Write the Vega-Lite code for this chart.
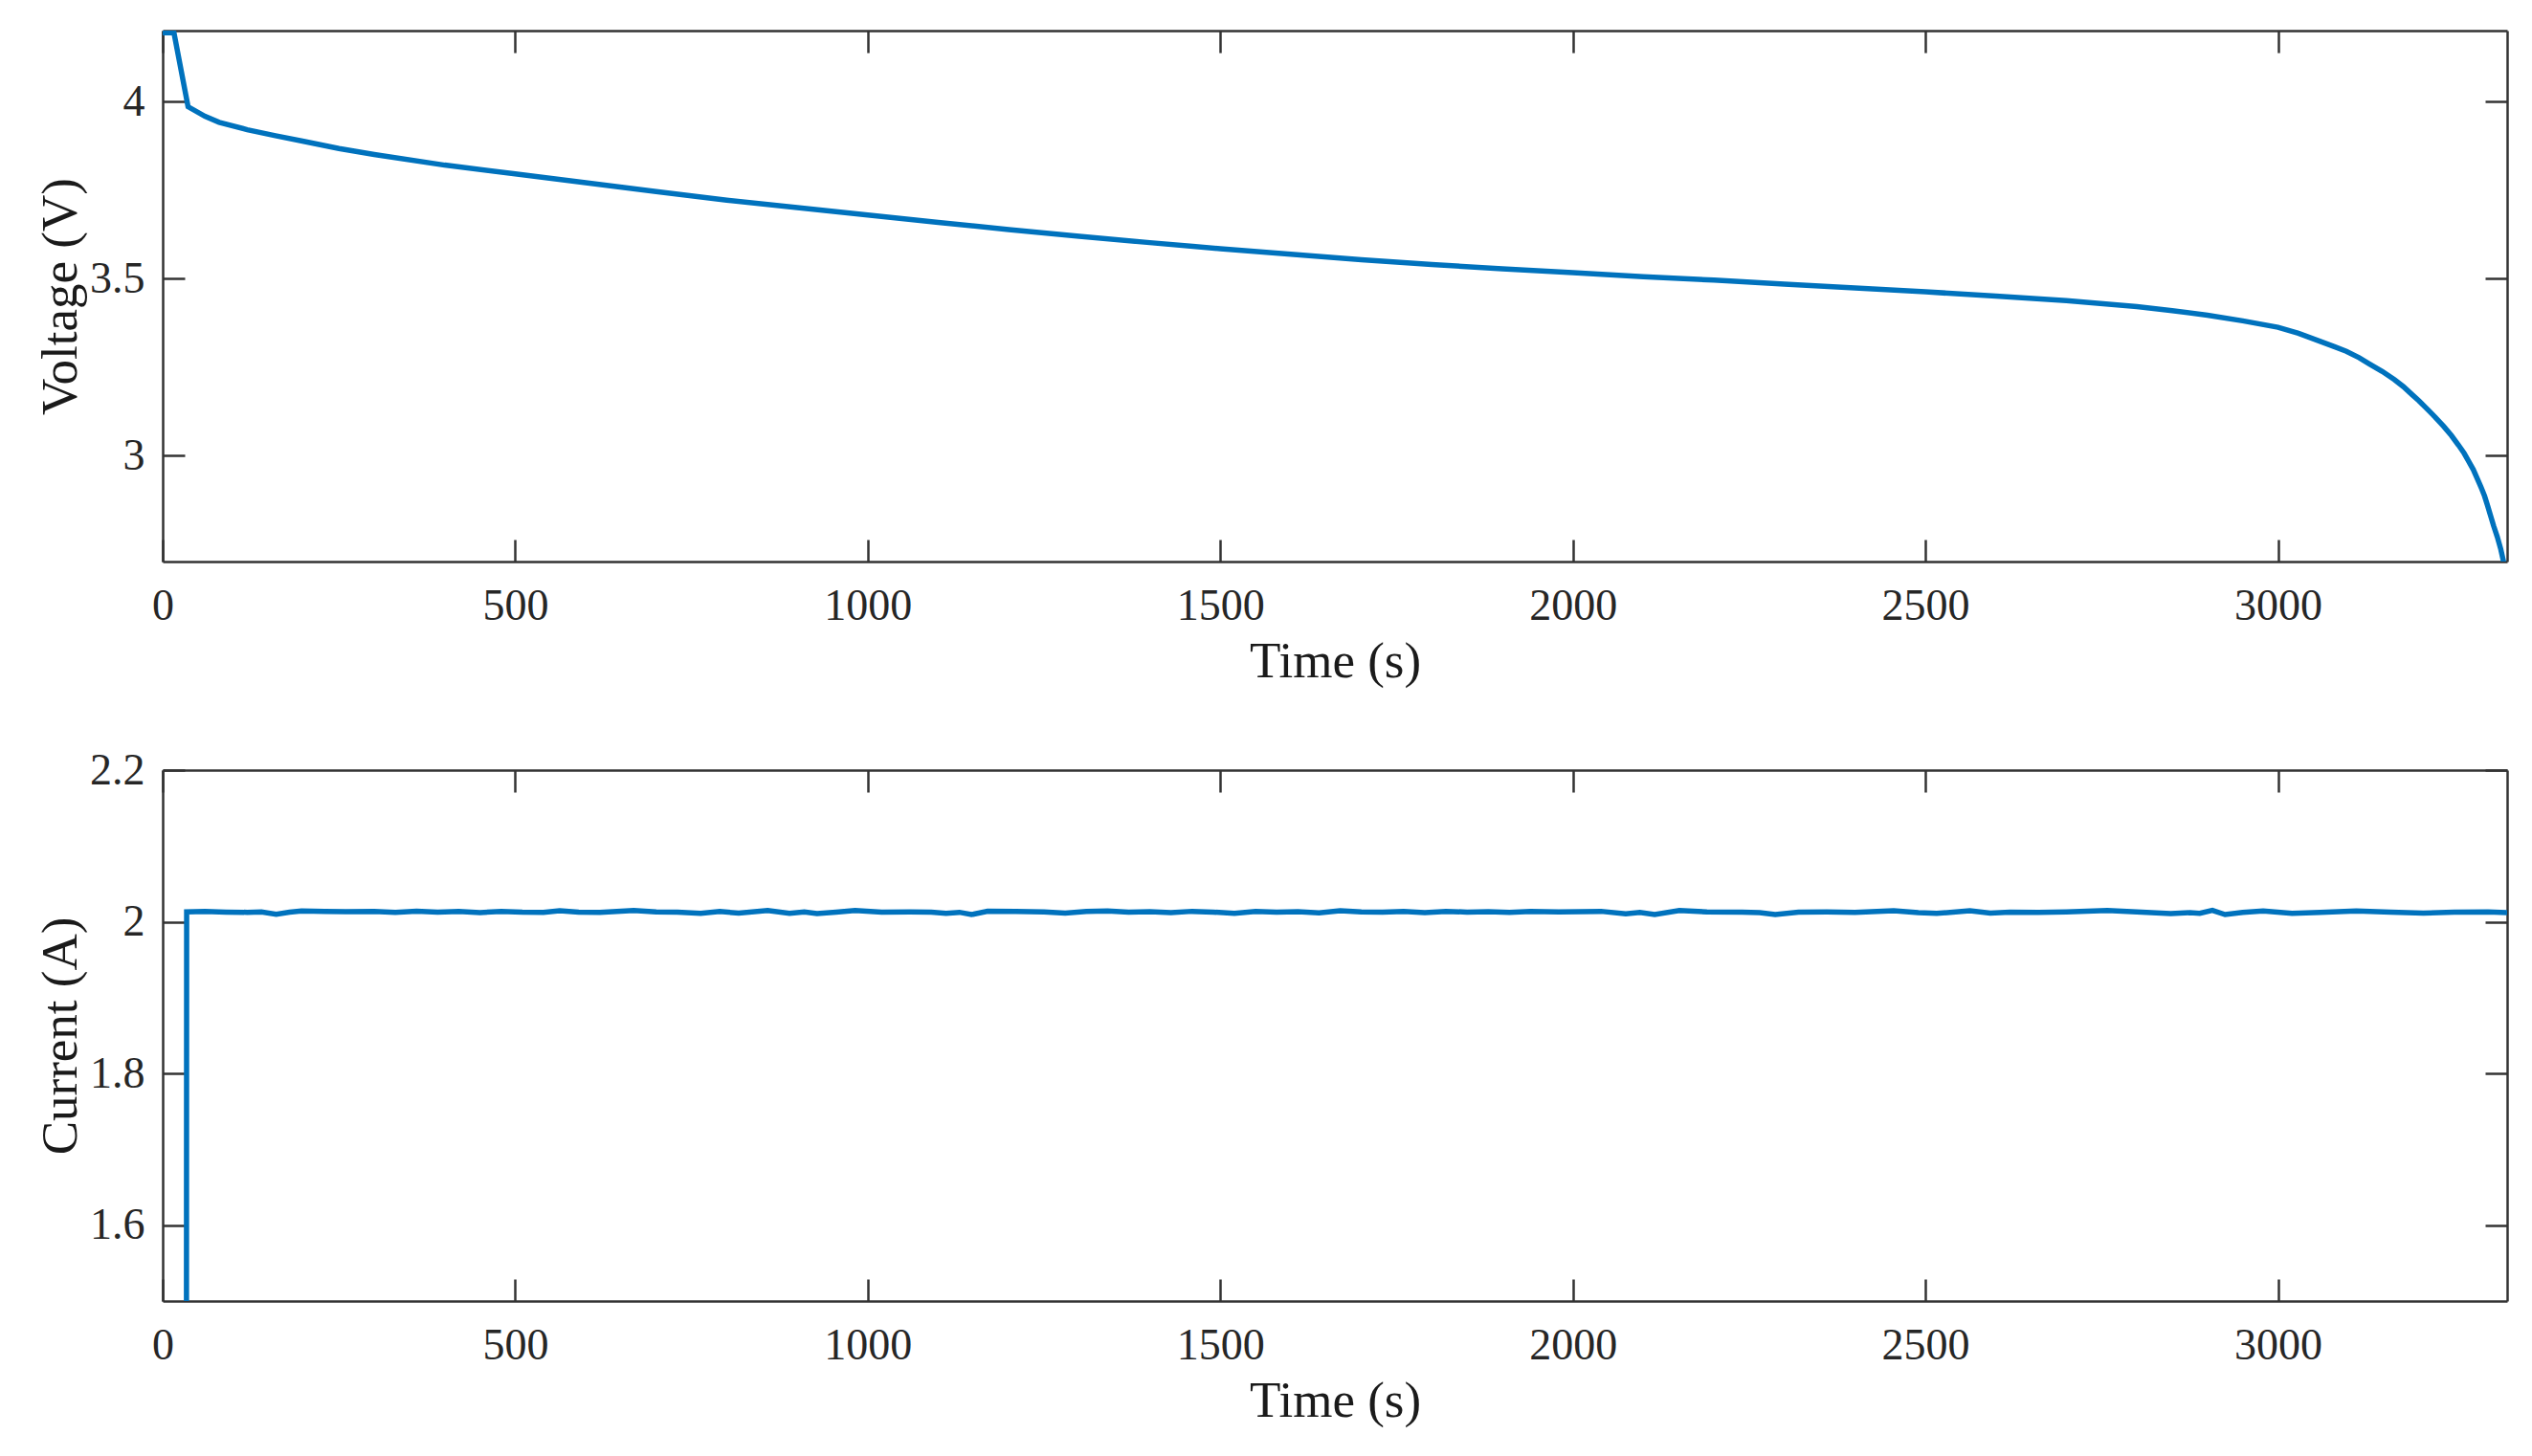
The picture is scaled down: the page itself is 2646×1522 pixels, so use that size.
{
  "$schema": "https://vega.github.io/schema/vega-lite/v6.json",
  "background": "white",
  "padding": {"left": 37, "top": 30, "right": 20, "bottom": 20},
  "config": {
    "view": {"stroke": null},
    "axis": {
      "grid": false,
      "domainColor": "#333333",
      "domainWidth": 2.5,
      "tickColor": "#333333",
      "tickWidth": 2.5,
      "tickSize": -23,
      "labelFont": "Liberation Serif",
      "labelFontSize": 46,
      "labelColor": "#262626",
      "labelFlush": false,
      "labelOverlap": false,
      "titleFont": "Liberation Serif",
      "titleFontSize": 53,
      "titleFontWeight": "normal",
      "titleColor": "#1a1a1a"
    }
  },
  "datasets": {
    "volt": [
      {"t": 0, "v": 4.194}, {"t": 16, "v": 4.194}, {"t": 36, "v": 3.985}, {"t": 60, "v": 3.958},
      {"t": 80, "v": 3.941}, {"t": 120, "v": 3.92}, {"t": 160, "v": 3.903}, {"t": 200, "v": 3.887},
      {"t": 250, "v": 3.867}, {"t": 300, "v": 3.85}, {"t": 400, "v": 3.82}, {"t": 500, "v": 3.795},
      {"t": 600, "v": 3.77}, {"t": 700, "v": 3.745}, {"t": 800, "v": 3.721}, {"t": 900, "v": 3.7},
      {"t": 1000, "v": 3.679}, {"t": 1100, "v": 3.658}, {"t": 1200, "v": 3.638}, {"t": 1300, "v": 3.619},
      {"t": 1400, "v": 3.601}, {"t": 1500, "v": 3.584}, {"t": 1600, "v": 3.568}, {"t": 1700, "v": 3.553},
      {"t": 1800, "v": 3.539}, {"t": 1900, "v": 3.527}, {"t": 2000, "v": 3.516}, {"t": 2100, "v": 3.505},
      {"t": 2200, "v": 3.495}, {"t": 2300, "v": 3.484}, {"t": 2400, "v": 3.473}, {"t": 2500, "v": 3.462},
      {"t": 2600, "v": 3.45}, {"t": 2700, "v": 3.437}, {"t": 2800, "v": 3.42}, {"t": 2850, "v": 3.409},
      {"t": 2900, "v": 3.396}, {"t": 2950, "v": 3.38}, {"t": 3000, "v": 3.362}, {"t": 3029, "v": 3.345},
      {"t": 3060, "v": 3.322}, {"t": 3080, "v": 3.307}, {"t": 3097, "v": 3.294}, {"t": 3115, "v": 3.276},
      {"t": 3130, "v": 3.258}, {"t": 3148, "v": 3.237}, {"t": 3165, "v": 3.214}, {"t": 3178, "v": 3.194},
      {"t": 3190, "v": 3.172}, {"t": 3200, "v": 3.154}, {"t": 3210, "v": 3.134}, {"t": 3223, "v": 3.108},
      {"t": 3235, "v": 3.082}, {"t": 3246, "v": 3.056}, {"t": 3256, "v": 3.029}, {"t": 3264, "v": 3.006},
      {"t": 3270, "v": 2.985}, {"t": 3277, "v": 2.96}, {"t": 3283, "v": 2.933}, {"t": 3288, "v": 2.91},
      {"t": 3293, "v": 2.885}, {"t": 3297, "v": 2.86}, {"t": 3301, "v": 2.833}, {"t": 3306, "v": 2.8},
      {"t": 3311, "v": 2.77}, {"t": 3316, "v": 2.735}, {"t": 3321, "v": 2.69}
    ],
    "curr": [
      {"t": 0, "i": 0}, {"t": 33, "i": 0}, {"t": 34, "i": 2.013}, {"t": 60, "i": 2.0135},
      {"t": 90, "i": 2.0128}, {"t": 120, "i": 2.0125}, {"t": 140, "i": 2.013}, {"t": 161, "i": 2.010},
      {"t": 180, "i": 2.0128}, {"t": 197, "i": 2.0142}, {"t": 230, "i": 2.0138}, {"t": 260, "i": 2.0132},
      {"t": 300, "i": 2.0138}, {"t": 330, "i": 2.0125}, {"t": 360, "i": 2.014}, {"t": 390, "i": 2.0128},
      {"t": 420, "i": 2.0135}, {"t": 450, "i": 2.0122}, {"t": 480, "i": 2.0138}, {"t": 510, "i": 2.0128},
      {"t": 540, "i": 2.0125}, {"t": 563, "i": 2.0145}, {"t": 590, "i": 2.0128}, {"t": 620, "i": 2.0125},
      {"t": 668, "i": 2.0148}, {"t": 700, "i": 2.013}, {"t": 730, "i": 2.0128}, {"t": 763, "i": 2.0112},
      {"t": 790, "i": 2.0135}, {"t": 817, "i": 2.0115}, {"t": 858, "i": 2.0148}, {"t": 889, "i": 2.011},
      {"t": 910, "i": 2.013}, {"t": 928, "i": 2.0108}, {"t": 955, "i": 2.0128}, {"t": 982, "i": 2.0148},
      {"t": 1020, "i": 2.0128}, {"t": 1060, "i": 2.013}, {"t": 1090, "i": 2.0128}, {"t": 1111, "i": 2.0112},
      {"t": 1130, "i": 2.0125}, {"t": 1147, "i": 2.0095}, {"t": 1170, "i": 2.014}, {"t": 1210, "i": 2.0135},
      {"t": 1250, "i": 2.013}, {"t": 1280, "i": 2.0115}, {"t": 1310, "i": 2.0135}, {"t": 1340, "i": 2.0142},
      {"t": 1370, "i": 2.0128}, {"t": 1400, "i": 2.0132}, {"t": 1430, "i": 2.012}, {"t": 1460, "i": 2.0138},
      {"t": 1490, "i": 2.0128}, {"t": 1520, "i": 2.011}, {"t": 1550, "i": 2.0135}, {"t": 1580, "i": 2.0128},
      {"t": 1610, "i": 2.0132}, {"t": 1640, "i": 2.0118}, {"t": 1670, "i": 2.0145}, {"t": 1700, "i": 2.013},
      {"t": 1730, "i": 2.0128}, {"t": 1760, "i": 2.0135}, {"t": 1790, "i": 2.0122}, {"t": 1820, "i": 2.0138},
      {"t": 1850, "i": 2.0128}, {"t": 1880, "i": 2.0132}, {"t": 1910, "i": 2.0125}, {"t": 1940, "i": 2.0135},
      {"t": 1980, "i": 2.013}, {"t": 2040, "i": 2.0138}, {"t": 2075, "i": 2.0105}, {"t": 2095, "i": 2.0125},
      {"t": 2116, "i": 2.0095}, {"t": 2151, "i": 2.015}, {"t": 2190, "i": 2.013}, {"t": 2240, "i": 2.0128},
      {"t": 2265, "i": 2.012}, {"t": 2287, "i": 2.0095}, {"t": 2320, "i": 2.0128}, {"t": 2360, "i": 2.013},
      {"t": 2400, "i": 2.0125}, {"t": 2455, "i": 2.0145}, {"t": 2490, "i": 2.012}, {"t": 2516, "i": 2.011},
      {"t": 2563, "i": 2.0145}, {"t": 2592, "i": 2.0115}, {"t": 2620, "i": 2.0128}, {"t": 2660, "i": 2.0125},
      {"t": 2700, "i": 2.013}, {"t": 2758, "i": 2.0148}, {"t": 2800, "i": 2.013}, {"t": 2848, "i": 2.0108},
      {"t": 2875, "i": 2.012}, {"t": 2889, "i": 2.0112}, {"t": 2907, "i": 2.015}, {"t": 2925, "i": 2.0095},
      {"t": 2950, "i": 2.0125}, {"t": 2979, "i": 2.0142}, {"t": 3020, "i": 2.011}, {"t": 3060, "i": 2.0125},
      {"t": 3111, "i": 2.0142}, {"t": 3160, "i": 2.0128}, {"t": 3206, "i": 2.0115}, {"t": 3250, "i": 2.0128},
      {"t": 3298, "i": 2.013}, {"t": 3325, "i": 2.0122}
    ]
  },
  "vconcat": [
    {
      "width": 2450,
      "height": 555,
      "data": {"name": "volt"},
      "layer": [
        {
          "mark": {"type": "line", "opacity": 0, "clip": true},
          "encoding": {
            "x": {"field": "t", "type": "quantitative",
              "axis": {"orient": "top", "title": null, "labels": false, "values": [0, 500, 1000, 1500, 2000, 2500, 3000]}},
            "y": {"field": "v", "type": "quantitative",
              "axis": {"orient": "right", "title": null, "labels": false, "values": [3, 3.5, 4]}}
          }
        },
        {
          "mark": {"type": "line", "color": "#0072BD", "strokeWidth": 5.5, "clip": true},
          "encoding": {
            "x": {"field": "t", "type": "quantitative",
              "scale": {"domain": [0, 3325], "nice": false, "zero": false},
              "axis": {"orient": "bottom", "title": "Time (s)", "values": [0, 500, 1000, 1500, 2000, 2500, 3000], "format": "d", "labelPadding": 47, "titleY": 120, "titleBaseline": "alphabetic"}},
            "y": {"field": "v", "type": "quantitative",
              "scale": {"domain": [2.7, 4.2], "nice": false, "zero": false},
              "axis": {"orient": "left", "title": "Voltage (V)", "values": [3, 3.5, 4], "labelExpr": "'' + datum.value", "labelPadding": 42, "titleX": -91, "titleBaseline": "alphabetic"}}
          }
        }
      ],
      "resolve": {"axis": {"x": "independent", "y": "independent"}}
    },
    {
      "width": 2450,
      "height": 555,
      "data": {"name": "curr"},
      "layer": [
        {
          "mark": {"type": "line", "opacity": 0, "clip": true},
          "encoding": {
            "x": {"field": "t", "type": "quantitative",
              "axis": {"orient": "top", "title": null, "labels": false, "values": [0, 500, 1000, 1500, 2000, 2500, 3000]}},
            "y": {"field": "i", "type": "quantitative",
              "axis": {"orient": "right", "title": null, "labels": false, "values": [1.6, 1.8, 2, 2.2]}}
          }
        },
        {
          "mark": {"type": "line", "color": "#0072BD", "strokeWidth": 5.5, "clip": true},
          "encoding": {
            "x": {"field": "t", "type": "quantitative",
              "scale": {"domain": [0, 3325], "nice": false, "zero": false},
              "axis": {"orient": "bottom", "title": "Time (s)", "values": [0, 500, 1000, 1500, 2000, 2500, 3000], "format": "d", "labelPadding": 47, "titleY": 120, "titleBaseline": "alphabetic"}},
            "y": {"field": "i", "type": "quantitative",
              "scale": {"domain": [1.5, 2.2], "nice": false, "zero": false},
              "axis": {"orient": "left", "title": "Current (A)", "values": [1.6, 1.8, 2, 2.2], "labelExpr": "'' + datum.value", "labelPadding": 42, "titleX": -91, "titleBaseline": "alphabetic"}}
          }
        }
      ],
      "resolve": {"axis": {"x": "independent", "y": "independent"}}
    }
  ],
  "bounds": "flush",
  "spacing": 218
}
